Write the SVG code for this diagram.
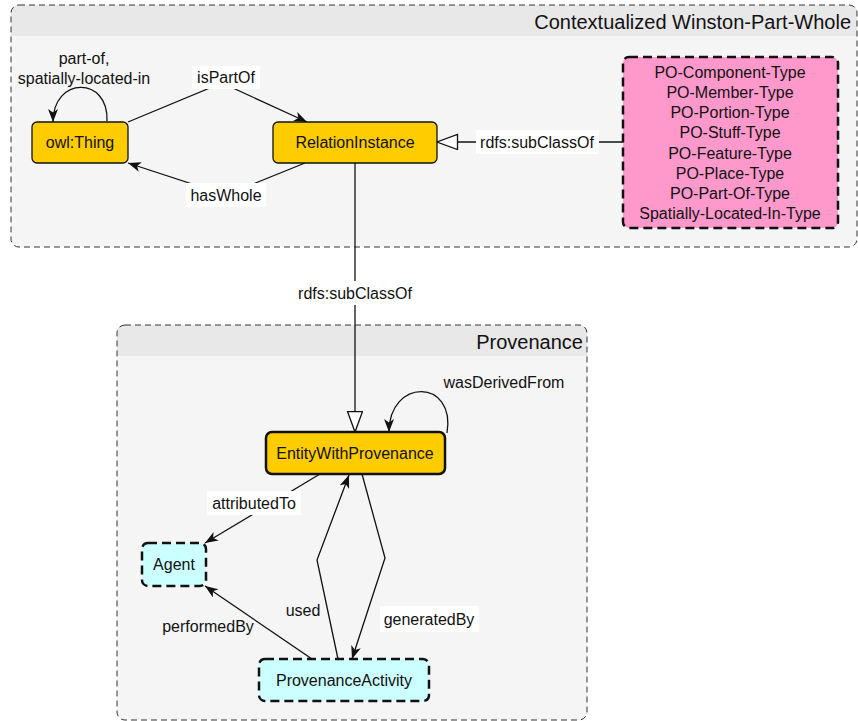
<svg xmlns="http://www.w3.org/2000/svg" width="858" height="721" viewBox="0 0 858 721">
<style>
text{font-family:"Liberation Sans",Arial,sans-serif;fill:#111;}
.t{font-size:16px;text-anchor:middle;}
.title{font-size:20px;text-anchor:end;}
.cont{fill:none;stroke:#333;stroke-width:1;stroke-dasharray:6 4;}
.gold{fill:#ffcc00;stroke:#111;stroke-width:1.3;}
.gold2{fill:#ffcc00;stroke:#111;stroke-width:2.5;}
.pink{fill:#ff99cc;stroke:#111;stroke-width:2.5;stroke-dasharray:9 5;}
.cyan{fill:#ccffff;stroke:#111;stroke-width:2.5;stroke-dasharray:9 5;}
.e{fill:none;stroke:#111;stroke-width:1.3;}
.a{marker-end:url(#arr);}
.h{marker-end:url(#tri);}
.lb{fill:#fff;}
</style>
<defs>
<marker id="arr" markerUnits="userSpaceOnUse" markerWidth="15" markerHeight="12" refX="13" refY="5" orient="auto">
<path d="M0,0 L13,5 L0,10 L3.5,5 z" fill="#111"/>
</marker>
<marker id="tri" markerUnits="userSpaceOnUse" markerWidth="24" markerHeight="18" refX="21.5" refY="8" orient="auto">
<path d="M1,0.5 L21.5,8 L1,15.5 z" fill="#fff" stroke="#111" stroke-width="1.3"/>
</marker>
</defs>
<rect width="858" height="721" fill="#fff"/>
<g id="container-winston">
<rect x="11" y="5" width="846" height="242" rx="8" fill="#f5f5f5"/>
<path d="M11,36 L11,13 Q11,5 19,5 L849,5 Q857,5 857,13 L857,36 z" fill="#e8e8e8"/>
<rect class="cont" x="11" y="5" width="846" height="242" rx="8"/>
<text class="title" x="851" y="29">Contextualized Winston-Part-Whole</text>
</g>
<g id="container-provenance">
<rect x="117" y="325" width="470" height="395" rx="8" fill="#f5f5f5"/>
<path d="M117,356 L117,333 Q117,325 125,325 L579,325 Q587,325 587,333 L587,356 z" fill="#e8e8e8"/>
<rect class="cont" x="117" y="325" width="470" height="395" rx="8"/>
<text class="title" x="583" y="349">Provenance</text>
</g>
<g id="connectors">
<path class="e a" d="M107,121 C109,76 53,76 53,122"/>
<text class="t" x="84" y="64">part-of,</text>
<text class="t" x="84" y="84">spatially-located-in</text>
<path class="e a" d="M128,122 L222,83 L307,122"/>
<rect class="lb" x="192" y="66" width="68" height="23"/>
<text class="t" x="226" y="83">isPartOf</text>
<path class="e a" d="M305,163 L226,195 L128,163"/>
<rect class="lb" x="186" y="183" width="80" height="24"/>
<text class="t" x="226" y="201">hasWhole</text>
<path class="e h" d="M623,142 L437,142"/>
<rect class="lb" x="476" y="130" width="123" height="24"/>
<text class="t" x="537" y="148">rdfs:subClassOf</text>
<path class="e h" d="M355,163 L355,432"/>
<rect class="lb" x="294" y="281" width="123" height="24"/>
<text class="t" x="355" y="299">rdfs:subClassOf</text>
<path class="e a" d="M447,433 C456,378 389,378 389,432"/>
<text class="t" x="504" y="388">wasDerivedFrom</text>
<path class="e a" d="M320,474 L205,543"/>
<rect class="lb" x="207" y="491" width="94" height="24"/>
<text class="t" x="254" y="509">attributedTo</text>
<path class="e a" d="M338,659 L317,560 L349,475"/>
<text class="t" x="303" y="616">used</text>
<path class="e a" d="M362,474 L385,558 L352,659"/>
<rect class="lb" x="380" y="606" width="99" height="26"/>
<text class="t" x="429" y="625">generatedBy</text>
<path class="e a" d="M312,659 L205,586"/>
<text class="t" x="208" y="632">performedBy</text>
</g>
<g id="node-owl-thing">
<rect class="gold" x="32" y="122" width="96" height="41" rx="5"/>
<text class="t" x="80" y="148">owl:Thing</text>
</g>
<g id="node-relation-instance">
<rect class="gold" x="273" y="122" width="164" height="41" rx="5"/>
<text class="t" x="355" y="148">RelationInstance</text>
</g>
<g id="node-po-types">
<rect class="pink" x="623" y="57" width="215" height="171" rx="6"/>
<text class="t" x="730" y="78">PO-Component-Type</text>
<text class="t" x="730" y="98">PO-Member-Type</text>
<text class="t" x="730" y="118">PO-Portion-Type</text>
<text class="t" x="730" y="138">PO-Stuff-Type</text>
<text class="t" x="730" y="159">PO-Feature-Type</text>
<text class="t" x="730" y="179">PO-Place-Type</text>
<text class="t" x="730" y="199">PO-Part-Of-Type</text>
<text class="t" x="730" y="219">Spatially-Located-In-Type</text>
</g>
<g id="node-entity-with-provenance">
<rect class="gold2" x="266" y="432" width="179" height="42" rx="6"/>
<text class="t" x="355" y="459">EntityWithProvenance</text>
</g>
<g id="node-agent">
<rect class="cyan" x="142" y="543" width="64" height="43" rx="6"/>
<text class="t" x="174" y="570">Agent</text>
</g>
<g id="node-provenance-activity">
<rect class="cyan" x="259" y="659" width="170" height="42" rx="6"/>
<text class="t" x="344" y="686">ProvenanceActivity</text>
</g>
</svg>
